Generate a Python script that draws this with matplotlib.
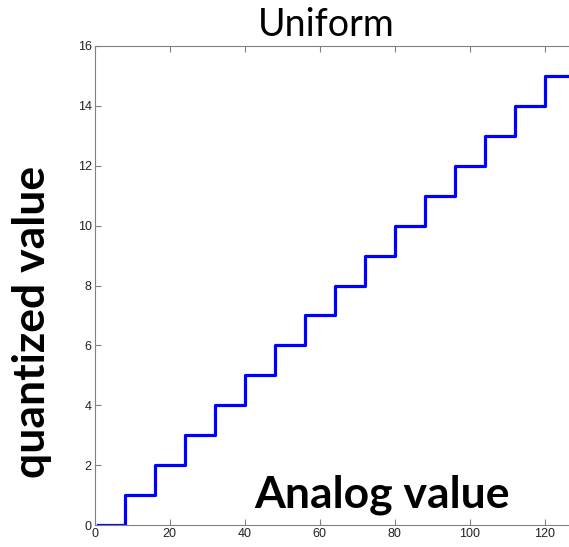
import matplotlib
matplotlib.use("Agg")
import matplotlib.pyplot as plt

# Data
analog_edges = [1, 8, 16, 24, 32, 40, 48, 56, 64, 72, 80, 88, 96, 104, 112, 120, 128]
quantized = [0, 1, 2, 3, 4, 5, 6, 7, 8, 9, 10, 11, 12, 13, 14, 15, 15]
xticks = [0, 20, 40, 60, 80, 100, 120]
yticks = [0, 2, 4, 6, 8, 10, 12, 14, 16]

W, H = 569, 547
fig = plt.figure(figsize=(W / 100, H / 100), dpi=100)
ax = fig.add_axes([94.5 / W, 22 / H, 480 / W, 479 / H])

ax.step(analog_edges, quantized, where="post", color="#0000ff", lw=2.3)
ax.set_xlim(0, 128)
ax.set_ylim(0, 16)
ax.set_xticks(xticks)
ax.set_yticks(yticks)
ax.tick_params(direction="in", length=4, width=0.8, colors="#808080",
               labelcolor="#222222", labelsize=9, top=True, right=True, pad=2)
for lab in ax.get_xticklabels() + ax.get_yticklabels():
    lab.set_family("Liberation Sans")
for s in ax.spines.values():
    s.set_color("#808080")
    s.set_linewidth(0.8)

fig.text(326 / W, 1 - 25 / H, "Uniform", ha="center", va="center",
         fontsize=27, family="Lato")
fig.text(32 / W, 1 - 322 / H, "quantized value", ha="center", va="center",
         rotation=90, fontsize=32, fontweight="bold", family="Lato")
fig.text(382 / W, 1 - 495 / H, "Analog value", ha="center", va="center",
         fontsize=32, fontweight="bold", family="Lato")

fig.savefig("out.png", dpi=100)
